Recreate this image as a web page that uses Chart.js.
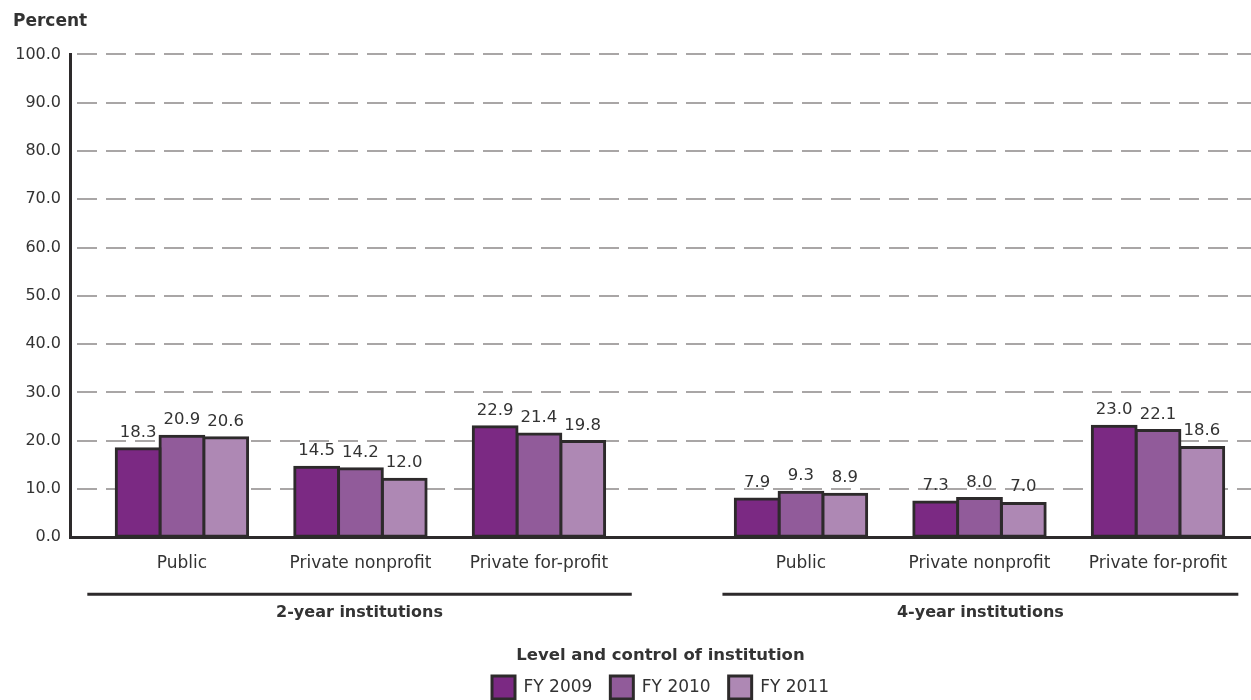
<!DOCTYPE html>
<html>
<head>
<meta charset="utf-8">
<script src="https://cdn.jsdelivr.net/npm/chart.js@4"></script>
<style>
  body { margin: 0; background: #fff; }
  #wrap { width: 1251px; height: 700px; position: relative; }
</style>
</head>
<body>
<div id="wrap"><canvas id="chart"></canvas></div>
<script>
// categories along the x axis, and which institution level each belongs to
const categories = ['Public', 'Private nonprofit', 'Private for-profit', 'Public', 'Private nonprofit', 'Private for-profit'];
const groupOf = [0, 0, 0, 1, 1, 1];
const groupNames = ['2-year institutions', '4-year institutions'];

const seriesNames = ['FY 2009', 'FY 2010', 'FY 2011'];
const fy2009 = [18.3, 14.5, 22.9, 7.9, 7.3, 23.0];
const fy2010 = [20.9, 14.2, 21.4, 9.3, 8.0, 22.1];
const fy2011 = [20.6, 12.0, 19.8, 8.9, 7.0, 18.6];

const colors = ['#7b2983', '#915b9a', '#ae88b4'];
const ink = '#2d2a2b';
const textColor = '#333333';
const FONT = "'DejaVu Sans', sans-serif";

// extra space between the two institution groups, in category widths
const GROUP_GAP = 0.468;
const slotPos = categories.map((c, i) => i + groupOf[i] * GROUP_GAP);

Chart.defaults.font.family = FONT;
Chart.defaults.color = textColor;

const seriesValues = [fy2009, fy2010, fy2011];

const datasets = seriesNames.map((name, s) => ({
    label: name,
    data: seriesValues[s].map((v, i) => ({ x: slotPos[i], y: v })),
    backgroundColor: colors[s],
    borderColor: ink,
    borderWidth: 3,
    borderSkipped: false,
    inflateAmount: 1.5,
    categoryPercentage: 0.736,
    barPercentage: 1
}));

// value labels above each bar
const valueLabels = {
    id: 'valueLabels',
    afterDatasetsDraw(chart) {
        const ctx = chart.ctx;
        ctx.save();
        ctx.font = '16.5px ' + FONT;
        ctx.fillStyle = textColor;
        ctx.textAlign = 'center';
        ctx.textBaseline = 'alphabetic';
        chart.data.datasets.forEach((ds, di) => {
            const meta = chart.getDatasetMeta(di);
            meta.data.forEach((bar, i) => {
                ctx.fillText(seriesValues[di][i].toFixed(1), bar.x, bar.y - 12);
            });
        });
        ctx.restore();
    }
};

// group rules and names under the category labels
const groupLabels = {
    id: 'groupLabels',
    afterDraw(chart) {
        const ctx = chart.ctx;
        const xs = chart.scales.x;
        const bottom = chart.chartArea.bottom;
        const pads = [[0.53, 0.52], [0.44, 0.45]];
        ctx.save();
        groupNames.forEach((name, g) => {
            const idx = slotPos.filter((p, i) => groupOf[i] === g);
            const x1 = xs.getPixelForValue(idx[0] - pads[g][0]);
            const x2 = xs.getPixelForValue(idx[idx.length - 1] + pads[g][1]);
            ctx.strokeStyle = ink;
            ctx.lineWidth = 3;
            ctx.beginPath();
            ctx.moveTo(x1, bottom + 57);
            ctx.lineTo(x2, bottom + 57);
            ctx.stroke();
            ctx.font = 'bold 16px ' + FONT;
            ctx.fillStyle = textColor;
            ctx.textAlign = 'center';
            ctx.textBaseline = 'middle';
            ctx.fillText(name, (x1 + x2) / 2, bottom + 76);
        });
        ctx.restore();
    }
};

new Chart(document.getElementById('chart'), {
    type: 'bar',
    data: { datasets: datasets },
    options: {
        responsive: true,
        maintainAspectRatio: false,
        animation: false,
        layout: { padding: { left: 13, right: 0, top: 0, bottom: -9 } },
        plugins: {
            title: {
                display: true,
                text: 'Percent',
                align: 'start',
                color: textColor,
                font: { size: 17, weight: 'bold' },
                padding: { top: 11, bottom: 23 }
            },
            legend: {
                position: 'bottom',
                fullSize: false,
                title: {
                    display: true,
                    text: 'Level and control of institution',
                    color: textColor,
                    font: { size: 16.5, weight: 'bold' },
                    padding: { top: 3, bottom: -9 }
                },
                labels: {
                    boxWidth: 23,
                    boxHeight: 23,
                    padding: 18,
                    color: textColor,
                    font: { size: 17 }
                }
            },
            tooltip: { enabled: false }
        },
        scales: {
            x: {
                type: 'linear',
                offset: false,
                bounds: 'data',
                min: -0.627,
                max: 5.989,
                afterBuildTicks: (scale) => {
                    scale.ticks = slotPos.map(v => ({ value: v }));
                },
                afterFit: (scale) => { scale.height = 107; },
                ticks: {
                    callback: (v, i) => categories[i],
                    autoSkip: false,
                    maxRotation: 0,
                    padding: 16,
                    color: textColor,
                    font: { size: 17 }
                },
                grid: { display: false, drawTicks: false, offset: false },
                border: { display: true, color: ink, width: 3 }
            },
            y: {
                min: 0,
                max: 100,
                afterFit: (scale) => { scale.width = 57; },
                ticks: {
                    stepSize: 10,
                    callback: (v) => v.toFixed(1),
                    padding: 9,
                    color: textColor,
                    font: { size: 16 }
                },
                grid: {
                    color: (c) => (c.tick && c.tick.value === 0) ? 'rgba(0,0,0,0)' : '#a9a6a6',
                    lineWidth: 2,
                    drawTicks: false
                },
                border: { display: true, color: ink, width: 3, dash: [20, 9], dashOffset: 24 }
            }
        }
    },
    plugins: [valueLabels, groupLabels]
});
</script>
</body>
</html>
